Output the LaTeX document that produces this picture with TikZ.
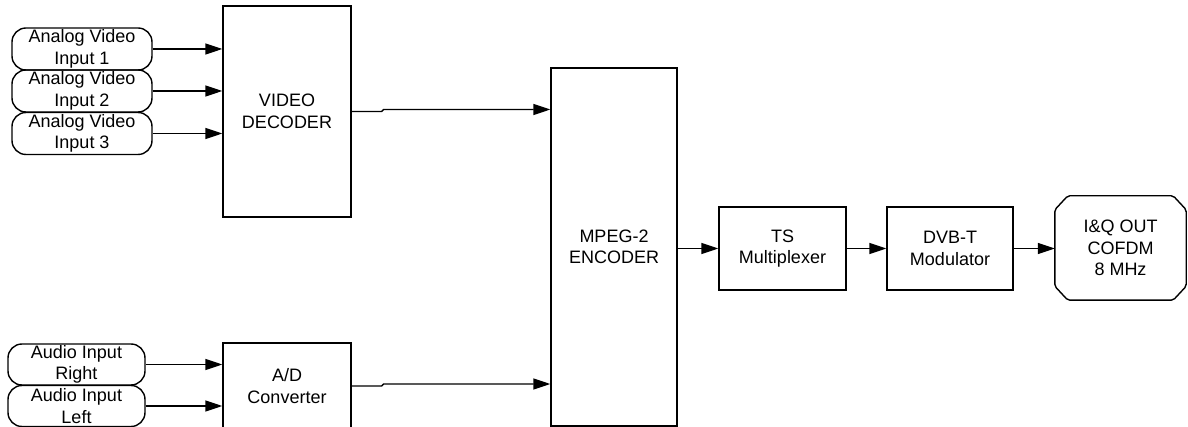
\documentclass[tikz,border=0pt]{standalone}
\usepackage{fontspec}
\setmainfont{Liberation Sans}
\usetikzlibrary{arrows.meta}
\begin{document}
\begin{tikzpicture}[x=1pt,y=-1pt,
  every node/.style={font=\fontsize{18}{21.5}\selectfont, align=center, inner sep=0pt},
  box/.style={draw, line width=1.4pt, rectangle},
  term/.style={draw, line width=1.4pt, rectangle, rounded corners=14pt},
  outline/.style={line width=1.4pt, rounded corners=2pt},
  arr/.style={line width=1.4pt, -{Triangle[length=17pt,width=11pt]}},
  ]
\useasboundingbox (0,0) rectangle (1188,427);
\clip (0,0) rectangle (1188,427);
% inputs
\node[term, minimum width=140pt, minimum height=42pt] (in1) at (82,49) {Analog Video\\Input 1};
\node[term, minimum width=140pt, minimum height=42pt] (in2) at (82,91) {Analog Video\\Input 2};
\node[term, minimum width=140pt, minimum height=42pt] (in3) at (82,133.5) {Analog Video\\Input 3};
\node[term, minimum width=137pt, minimum height=41pt] (ar) at (76.5,364.5) {Audio Input\\Right};
\node[term, minimum width=137pt, minimum height=41pt] (al) at (76.5,406) {Audio Input\\Left};
% blocks
\node[box, minimum width=128pt, minimum height=211pt] (vd) at (287,111.5) {VIDEO\\DECODER};
\node[box, minimum width=128pt, minimum height=86pt] (ad) at (287,386) {A/D\\Converter};
\node[box, minimum width=126pt, minimum height=358pt] (mpeg) at (614,247) {MPEG-2\\ENCODER};
\node[box, minimum width=127pt, minimum height=83pt] (ts) at (782.5,248.5) {TS\\Multiplexer};
\node[box, minimum width=126pt, minimum height=83pt] (dvb) at (950,248.5) {DVB-T\\Modulator};
\node[minimum width=131pt, minimum height=104pt] (iq) at (1120.5,248) {I\&Q OUT\\COFDM\\8 MHz};
\draw[outline] ([xshift=13pt]iq.north west) -- ([xshift=-13pt]iq.north east)
  -- ([yshift=-14pt]iq.north east) -- ([yshift=14pt]iq.south east)
  -- ([xshift=-13pt]iq.south east) -- ([xshift=13pt]iq.south west)
  -- ([yshift=14pt]iq.south west) -- ([yshift=-14pt]iq.north west) -- cycle;
% connectors
\draw[arr] (in1.east) -- (vd.west |- in1.east);
\draw[arr] (in2.east) -- (vd.west |- in2.east);
\draw[arr] (in3.east) -- (vd.west |- in3.east);
\draw[arr] (ar.east) -- (ad.west |- ar.east);
\draw[arr] (al.east) -- (ad.west |- al.east);
\coordinate (j1) at ([xshift=30pt]vd.east);
\coordinate (j2) at ([xshift=32pt,yshift=2pt]vd.east);
\draw[arr] (vd.east) -- (j1) -- (j2) -- (mpeg.west |- j2);
\coordinate (k1) at ([xshift=30pt]ad.east);
\coordinate (k2) at ([xshift=32pt,yshift=2pt]ad.east);
\draw[arr] (ad.east) -- (k1) -- (k2) -- (mpeg.west |- k2);
\draw[arr] (mpeg.east |- ts.west) -- (ts.west);
\draw[arr] (ts.east) -- (dvb.west);
\draw[arr] (dvb.east) -- (iq.west |- dvb.east);
\end{tikzpicture}
\end{document}
